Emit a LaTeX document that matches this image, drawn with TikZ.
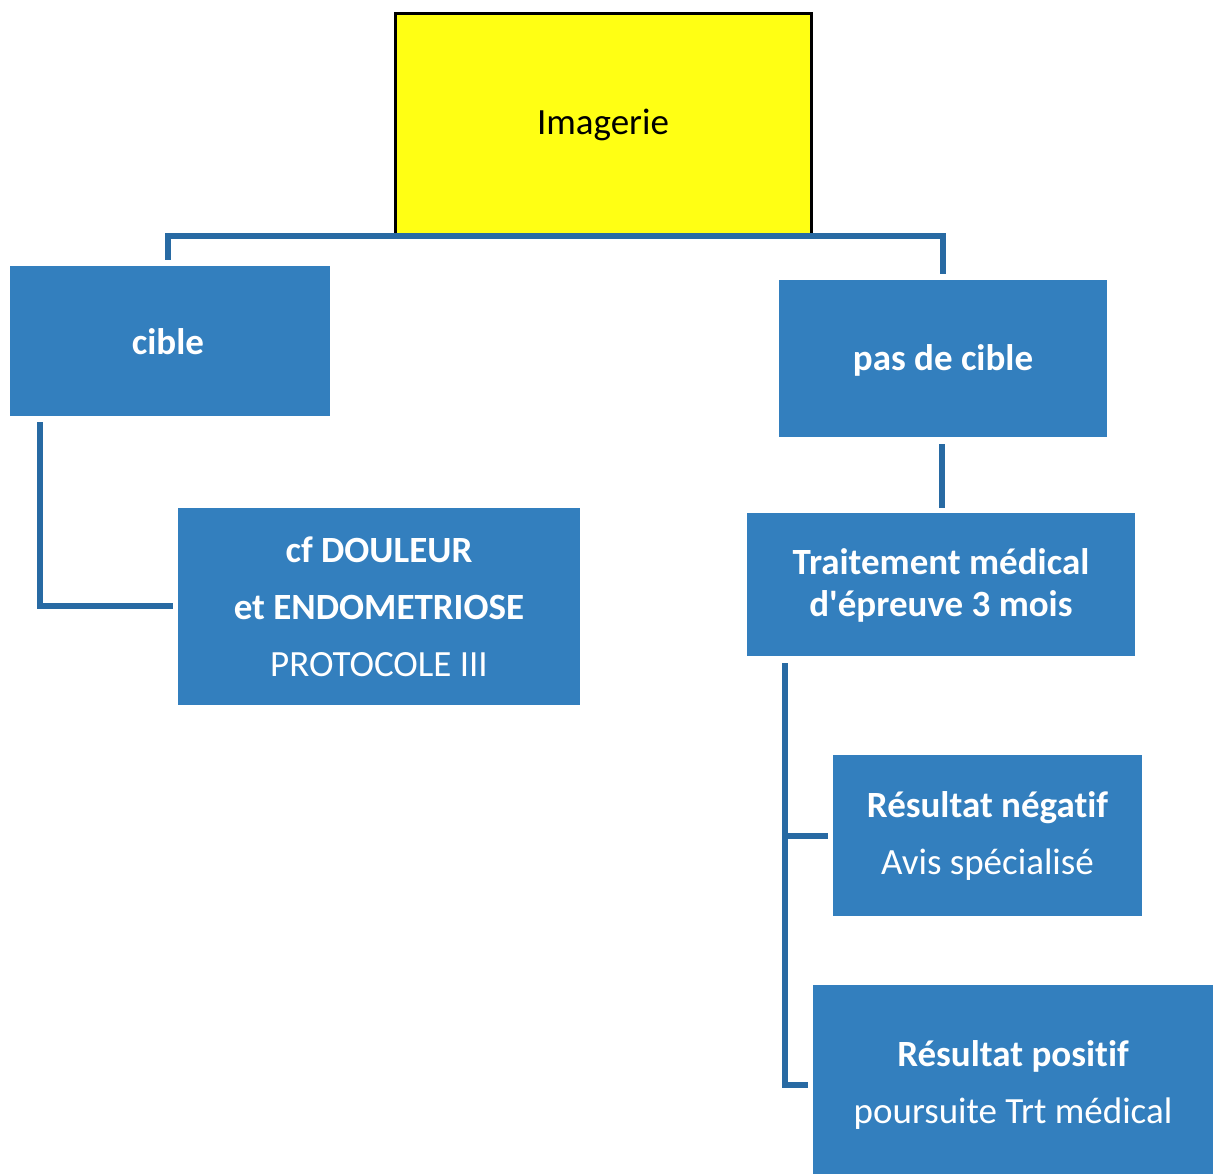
\documentclass[tikz,border=0pt]{standalone}
\usepackage{fontspec}
\setmainfont[Ligatures=NoCommon]{Carlito}
\definecolor{boxblue}{RGB}{51,127,190}
\definecolor{lineblue}{RGB}{40,106,163}
\definecolor{imgyellow}{RGB}{255,255,20}
\begin{document}
\begin{tikzpicture}[x=1pt,y=-1pt,
  bluebox/.style={fill=boxblue, draw=none, inner sep=0pt},
  boxtext/.style={text=white, align=center, font=\fontsize{37}{57}\selectfont},
  conn/.style={draw=lineblue, line width=6pt}]
\useasboundingbox (0,0) rectangle (1213,1174);
\node[fill=imgyellow, draw=black, line width=3pt, minimum width=416pt, minimum height=221pt,
  inner sep=0pt] (img) at (603.5,124) {};
\node at (603,125) [font=\fontsize{37}{42}\selectfont] (imgtxt) {Imagerie};
\node[bluebox, minimum width=320pt, minimum height=150pt] (cible) at (170,341) {};
\node[boxtext, font=\fontsize{37}{42}\selectfont\bfseries] (cibletxt) at (168,342) {cible};
\node[bluebox, minimum width=328pt, minimum height=157pt] (pas) at (943,358.5) {};
\node[boxtext, font=\fontsize{37}{42}\selectfont\bfseries] (pastxt) at (943,360) {pas de cible};
\node[bluebox, minimum width=402pt, minimum height=197pt] (cf) at (379,606.5) {};
\node[boxtext] (cftxt) at (379,607)
  {\bfseries cf DOULEUR\\ \bfseries et ENDOMETRIOSE\\ PROTOCOLE III};
\node[bluebox, minimum width=388pt, minimum height=143pt] (trt) at (941,584.5) {};
\node[boxtext, font=\fontsize{37}{42}\selectfont\bfseries] (trttxt) at (941,585)
  {Traitement médical\\ d\textquotesingle épreuve 3 mois};
\node[bluebox, minimum width=309pt, minimum height=161pt] (neg) at (987.5,835.5) {};
\node[boxtext] (negtxt) at (987.5,836)
  {\bfseries Résultat négatif\\ Avis spécialisé};
\node[bluebox, minimum width=400pt, minimum height=189pt] (pos) at (1013,1079.5) {};
\node[boxtext] (postxt) at (1013,1085)
  {\bfseries Résultat positif\\ poursuite Trt médical};
% connectors
\coordinate (tl) at (168,236);
\coordinate (tr) at (943,236);
\coordinate (cl) at (168,260);
\coordinate (cr) at (943,274);
\draw[conn] (cl) -- (tl) -- (tr) -- (cr);
\coordinate (c1) at (40,422);
\coordinate (c2) at (40,606);
\coordinate (c3) at (173,606);
\draw[conn] (c1) -- (c2) -- (c3);
\coordinate (p1) at (942,444);
\coordinate (p2) at (942,508);
\draw[conn] (p1) -- (p2);
\coordinate (t1) at (785,663);
\coordinate (t2) at (785,1085);
\coordinate (t3) at (808,1085);
\coordinate (n1) at (785,836);
\coordinate (n2) at (828,836);
\draw[conn] (t1) -- (t2) -- (t3);
\draw[conn] (n1) -- (n2);
\end{tikzpicture}
\end{document}
